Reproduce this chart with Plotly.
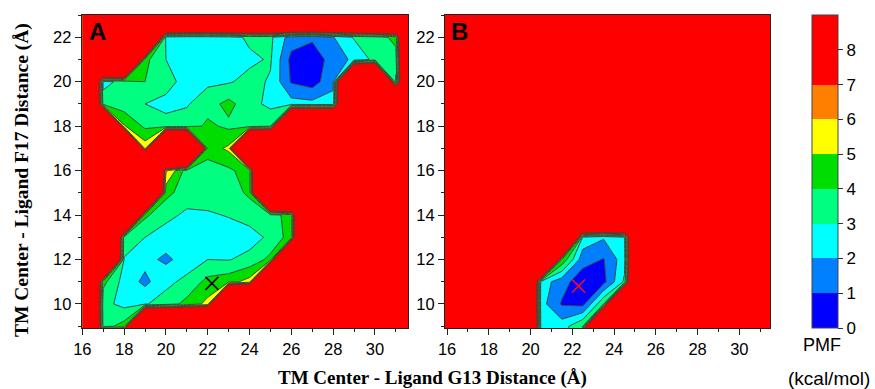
import plotly.graph_objects as go

# ---------------- data ----------------
OUT = 30.0                      # value assigned to unsampled (high-PMF) grid points
Y_GRID = list(range(8, 24))     # y = 8 ... 23
X_A = list(range(16, 33))       # panel A grid, x = 16 ... 32
X_B = [15.5 + i for i in range(18)]  # panel B grid, x = 15.5 ... 32.5

# panel A rows: (first x, PMF values along x); None = unsampled
a_y22 = (20, [2.6, 2.4, 2.4, 2.6, 3.2, 3.2, 1.5, 1.2, 1.95, 3.1, 3.5, 4.3])
a_y21 = (19, [4.3, 3.0, 2.5, 2.4, 2.6, 2.8, 3.1, 0.7, 0.3, 1.5, 2.2, 3.3, 3.6])
a_y20 = (17, [2.7, 3.3, 4.0, 3.4, 2.6, 2.8, 2.9, 3.3, 2.9, 0.9, 0.5, 1.8, None, None, 2.7])
a_y19 = (17, [3.5, 3.4, 3.0, 2.7, 2.9, 3.6, 4.3, 3.4, 2.7, 2.4, 2.3, 2.3])
a_y18 = (18, [5.1, 3.8, 3.4, 3.5, 4.2, 3.8, 3.5, 4.0])
a_y17 = (19, [5.6, None, None, 4.5, 5.2])
a_y16 = (20, [6.2, 3.5, 3.5, 3.8, 4.5])
a_y15 = (20, [4.3, 3.5, 3.4, 3.5, 4.2])
a_y14 = (19, [4.2, 3.3, 2.8, 2.9, 3.05, 3.4, 3.6, 4.4])
a_y13 = (18, [3.4, 3.0, 2.5, 2.3, 2.4, 2.6, 2.6, 3.2, 4.5])
a_y12 = (18, [2.95, 2.3, 1.8, 2.4, 3.0, 2.95, 3.3, 4.3])
a_y11 = (17, [4.3, 2.6, 1.75, 2.7, 3.3, 4.3, 4.6, 5.4])
a_y10 = (17, [3.3, 2.7, 2.9, 3.5, 4.3, 5.3])
a_y9 = (17, [3.6, 4.4])

# panel B rows
b_y13 = (22.5, [2.7, 2.1, 2.8])
b_y12 = (21.5, [4.8, 1.4, 0.95, 2.6])
b_y11 = (20.5, [2.6, 1.4, 0.4, 0.7, 3.2])
b_y10 = (20.5, [2.4, 0.9, 0.7, 4.0])
b_y9 = (20.5, [2.7, 2.5, 4.0])
b_y8 = (20.5, [2.8, 2.6, 4.3])

rows_a = {22: a_y22, 21: a_y21, 20: a_y20, 19: a_y19, 18: a_y18, 17: a_y17,
          16: a_y16, 15: a_y15, 14: a_y14, 13: a_y13, 12: a_y12, 11: a_y11,
          10: a_y10, 9: a_y9}
rows_b = {13: b_y13, 12: b_y12, 11: b_y11, 10: b_y10, 9: b_y9, 8: b_y8}

# minimum markers
min_a_x, min_a_y = [22.2], [10.93]
min_b_x, min_b_y = [22.3], [10.81]

x_ticks = [16, 18, 20, 22, 24, 26, 28, 30]
y_ticks = [10, 12, 14, 16, 18, 20, 22]
cbar_ticks = [0, 1, 2, 3, 4, 5, 6, 7, 8]
cbar_edges = [0, 1, 2, 3, 4, 5, 6, 7, 9]
band_colors = ['#0000FF', '#0080FF', '#00FFFF', '#00FF80', '#00DD00',
               '#FFFF00', '#FF8000', '#FF0000']


def build(xs, rows):
    z = []
    for y in Y_GRID:
        row = [OUT] * len(xs)
        if y in rows:
            x0, vals = rows[y]
            i0 = xs.index(x0)
            for k, v in enumerate(vals):
                if v is not None:
                    row[i0 + k] = v
        z.append(row)
    return z


z_a = build(X_A, rows_a)
z_b = build(X_B, rows_b)

# contour fill colours: band [L, L+1] is evaluated at L+0.5 -> position L/8
fill_scale = [[i / 8, c] for i, c in enumerate(band_colors + ['#FF0000'])]

cb_scale = []
for i, c in enumerate(band_colors):
    cb_scale.append([cbar_edges[i] / 9, c])
    cb_scale.append([cbar_edges[i + 1] / 9, c])

LINE = 'rgb(62,72,60)'
SANS = 'Liberation Sans, Arial, sans-serif'
SERIF = 'Liberation Serif, Times New Roman, serif'

W, H = 875, 389


def px(v):
    return v / W


def py(v):
    return 1 - v / H


fig = go.Figure()


def add_contour(xs, z, xa, ya):
    fig.add_trace(go.Contour(
        x=xs, y=Y_GRID, z=z, xaxis=xa, yaxis=ya,
        autocontour=False,
        contours=dict(start=1, end=8, size=1, coloring='fill', showlines=True),
        colorscale=fill_scale, showscale=False,
        line=dict(color=LINE, width=1, smoothing=0),
        hoverinfo='skip'))


add_contour(X_A, z_a, 'x', 'y')
add_contour(X_B, z_b, 'x2', 'y2')

fig.add_trace(go.Scatter(x=min_a_x, y=min_a_y, xaxis='x', yaxis='y', mode='markers',
                         marker=dict(symbol='x-thin', size=13, line=dict(color='black', width=1.6)),
                         hoverinfo='skip', showlegend=False))
fig.add_trace(go.Scatter(x=min_b_x, y=min_b_y, xaxis='x2', yaxis='y2', mode='markers',
                         marker=dict(symbol='x-thin', size=13, line=dict(color='#FF1010', width=1.6)),
                         hoverinfo='skip', showlegend=False))

# colour bar carrier (point lies outside the axis range)
fig.add_trace(go.Scatter(
    x=[0], y=[0], xaxis='x2', yaxis='y2', mode='markers', showlegend=False, hoverinfo='skip',
    marker=dict(color=[0], cmin=0, cmax=9, colorscale=cb_scale, showscale=True, size=1,
                colorbar=dict(x=px(811.7), xanchor='left', xpad=0,
                              y=py(328), yanchor='bottom', ypad=0,
                              len=313 / H, lenmode='fraction',
                              thickness=26, thicknessmode='pixels',
                              tickmode='array', tickvals=cbar_ticks,
                              ticks='outside', ticklen=5, tickcolor='#333',
                              tickfont=dict(family=SANS, size=17, color='black'),
                              outlinewidth=1, outlinecolor='#444'))))

ax_common = dict(showline=True, linecolor='#222', linewidth=1, mirror=True,
                 ticks='outside', ticklen=6, tickwidth=1, tickcolor='#222',
                 tickfont=dict(family=SANS, size=16.5, color='black'),
                 showgrid=False, zeroline=False, automargin=False)

fig.update_layout(
    width=W, height=H, margin=dict(l=0, r=0, t=0, b=0, autoexpand=False),
    paper_bgcolor='white', plot_bgcolor='#FF0000', showlegend=False,
    xaxis=dict(domain=[px(81.7), px(408)], range=[15.97, 31.58], anchor='y',
               tickmode='array', tickvals=x_ticks,
               minor=dict(ticks='outside', ticklen=3, dtick=1, tick0=16, tickcolor='#222'),
               **ax_common),
    yaxis=dict(domain=[py(328), py(15)], range=[8.92, 23.0], anchor='x',
               tickmode='array', tickvals=y_ticks,
               minor=dict(ticks='outside', ticklen=3, dtick=1, tick0=9, tickcolor='#222'),
               **ax_common),
    xaxis2=dict(domain=[px(445), px(770)], range=[15.9, 31.47], anchor='y2',
                tickmode='array', tickvals=x_ticks,
                minor=dict(ticks='outside', ticklen=3, dtick=1, tick0=16, tickcolor='#222'),
                **ax_common),
    yaxis2=dict(domain=[py(328), py(15)], range=[8.92, 23.0], anchor='x2',
                tickmode='array', tickvals=y_ticks,
                minor=dict(ticks='outside', ticklen=3, dtick=1, tick0=9, tickcolor='#222'),
                **ax_common),
)

ann = [
    dict(text='A', x=px(87), y=py(31), xanchor='left', yanchor='middle',
         font=dict(family=SANS, size=24, color='black', weight='bold')),
    dict(text='B', x=px(449), y=py(31), xanchor='left', yanchor='middle',
         font=dict(family=SANS, size=24, color='black', weight='bold')),
    dict(text='TM Center - Ligand G13 Distance (Å)', x=px(432), y=py(378),
         xanchor='center', yanchor='middle',
         font=dict(family=SERIF, size=19, color='black', weight='bold')),
    dict(text='TM Center - Ligand F17 Distance (Å)', x=px(22), y=py(180), textangle=-90,
         xanchor='center', yanchor='middle',
         font=dict(family=SERIF, size=19.5, color='black', weight='bold')),
    dict(text='PMF', x=px(822), y=py(345), xanchor='center', yanchor='middle',
         font=dict(family=SANS, size=18, color='black')),
    dict(text='(kcal/mol)', x=px(829), y=py(378), xanchor='center', yanchor='middle',
         font=dict(family=SANS, size=19, color='black')),
]
for a in ann:
    a.update(xref='paper', yref='paper', showarrow=False)
fig.update_layout(annotations=ann)

fig.write_html('out.html', config={'displayModeBar': False},
               post_script="document.body.style.margin='0px';")
